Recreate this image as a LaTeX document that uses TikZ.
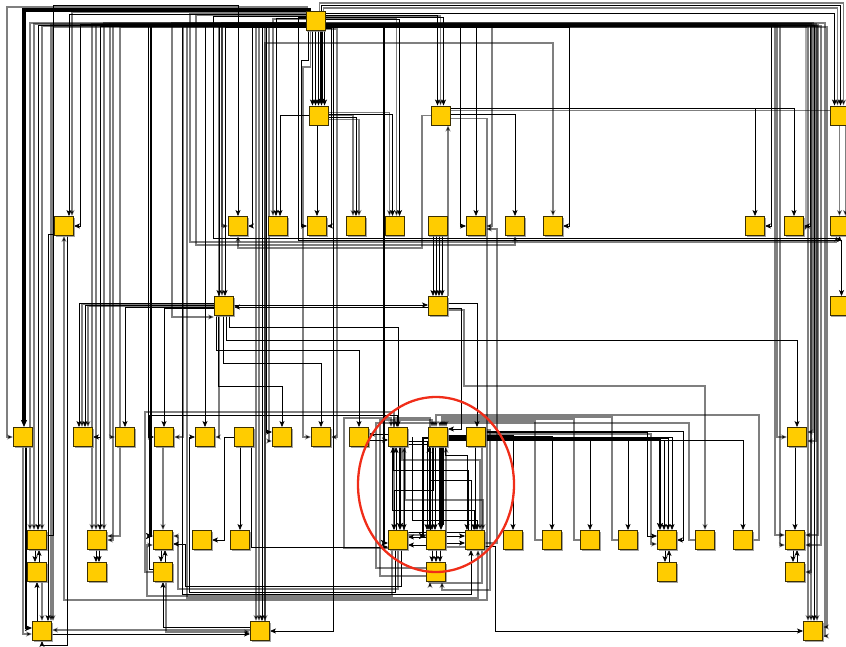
\documentclass[tikz,border=0pt]{standalone}
\usetikzlibrary{arrows.meta,shadows}
\definecolor{yel}{RGB}{255,204,0}
\definecolor{ndb}{RGB}{60,48,0}
\definecolor{ered}{RGB}{240,45,25}
\pgfdeclarelayer{bg}
\pgfsetlayers{bg,main}
\tikzset{
 nd/.style={draw=ndb, fill=yel, minimum size=19pt, inner sep=0pt, line width=0.9pt,
   drop shadow={shadow xshift=1.2pt, shadow yshift=-1.2pt, fill=black!45, opacity=0.8}},
 e/.style={draw=black, line width=0.7pt, -{Stealth[length=6pt,width=5pt,inset=1.5pt]}},
 g/.style={draw=black, draw opacity=0.5, fill opacity=0.9, line width=1.2pt, -{Stealth[length=6pt,width=5pt,inset=1.5pt]}},
 thk/.style={draw=black, line width=2.6pt, -{Stealth[length=7pt,width=6pt,inset=1.5pt]}},
}
\begin{document}
\begin{tikzpicture}[x=1pt,y=-1pt]
\useasboundingbox (0,0) rectangle (846,647);
% ---------------- nodes
\node[nd] (T) at (315.5,21) {};
\node[nd] (M1) at (318.5,115.5) {};
\node[nd] (M2) at (440.5,115.5) {};
\node[nd] (M3) at (839.5,115.5) {};
\foreach \n/\x in {A/64,B/238,C/278,D/317,E/356,F/394.5,G/437.5,H/476,I/515,J/553,K/755,L/794,N/839.5}
  \node[nd] (\n) at (\x,226) {};
\node[nd] (P) at (224,306) {};
\node[nd] (Q) at (438,306) {};
\node[nd] (S) at (839.5,306) {};
\foreach \n/\x in {a1/23,a2/83,a3/125,a4/164,a5/205,a6/244,a7/282,a8/321,a9/359,a10/398,a11/438,a12/476,a13/797}
  \node[nd] (\n) at (\x,437) {};
\foreach \n/\x in {b1/37,b2/97,b3/163,b4/202,b5/240,b6/398,b7/436,b8/475,b9/513,b10/552,b11/590,b12/628,b13/667,b14/705,b15/743,b16/795}
  \node[nd] (\n) at (\x,540) {};
\foreach \n/\x in {c1/37,c2/97,c3/163,c4/436,c5/667,c6/795}
  \node[nd] (\n) at (\x,572) {};
\foreach \n/\x in {d1/42,d2/260,d3/813}
  \node[nd] (\n) at (\x,631) {};
% ---------------- connectors
\begin{pgfonlayer}{bg}
% top lines from T
\draw[thk, line width=3.4pt] ([xshift=-6pt]T.north) -- (309.5,10) -| ([xshift=1pt]a1.north);
\draw[g] ([xshift=-8pt]T.north) -- (307.5,7) -| (7,437) -- (a1.west);
\draw[g] ([xshift=4pt]T.north) -- (319.5,3) -| ([xshift=4pt]M3.north);
\draw[e] ([xshift=6pt]T.north) -- (321.5,5) -| ([xshift=1pt]M3.north);
\draw[g] ([xshift=8pt]T.north) -- (323.5,8) -| ([xshift=-2pt]M3.north);
\draw[e] ([yshift=8pt]T.east) -| ([xshift=-5pt]M3.north);
\draw[e] ([yshift=6pt]T.east) -| ([xshift=-3pt]M2.north);
\draw[g] ([yshift=5pt]T.east) -| ([xshift=0pt]M2.north);
\draw[e] ([yshift=4pt]T.east) -| ([xshift=3pt]M2.north);
\draw[g] ([yshift=3pt]T.east) -| ([xshift=2pt]F.north);
\draw[e] ([yshift=2pt]T.east) -| ([xshift=5pt]F.north);
\draw[e] ([yshift=3pt]T.west) -| ([xshift=-2pt]C.north);
\draw[g] ([yshift=2pt]T.west) -| ([xshift=-5pt]C.north);
% B
\draw[e] ([yshift=5pt]b1.east) -| (53,5) -| (B.north);
\draw[g] ([yshift=-2pt]T.west) -| (222,226) -- (B.west);
\draw[e] ([yshift=-6pt]T.west) -| (252,226) -- (B.east);
\draw[g] (M2.west) -| (422,248) -| (B.south);
% A
\draw[e] ([yshift=7pt]T.west) -| ([xshift=5pt]A.north);
\draw[g] ([yshift=9pt]T.west) -| ([xshift=8pt]A.north);
\draw[e] ([yshift=-3pt]T.west) -| (80,226) -- (A.east);
\draw[e] ([yshift=-8pt]A.west) -| ([xshift=6pt]d1.north);
\draw[g] ([yshift=-3pt]M2.east) -| (487,600) -| (A.south);
\draw[e] ([xshift=3pt]A.south) -- (67,645) -| (d1.south);
% b1 / d1
\draw[g] ([yshift=-2pt]T.west) -| ([xshift=-7pt]b1.north);
\draw[g] ([yshift=-3pt]T.west) -| ([xshift=-3pt]b1.north);
\draw[e] ([yshift=-4pt]T.west) -| ([xshift=1pt]b1.north);
\draw[g] ([yshift=-5pt]T.west) -| ([xshift=5pt]b1.north);
\draw[g] ([yshift=-4pt]T.west) -| ([xshift=9pt]d1.north);
\draw[g] ([yshift=-6pt]T.west) -| ([xshift=11pt]d1.north);
% b2 / a2 / a3
\draw[g] ([yshift=-3pt]T.west) -| ([xshift=-5pt]b2.north);
\draw[g] ([yshift=-4pt]T.west) -| ([xshift=-1pt]b2.north);
\draw[e] ([yshift=-5pt]T.west) -| ([xshift=3pt]b2.north);
\draw[g] ([yshift=-2pt]T.west) -| ([xshift=7pt]b2.north);
\draw[g] ([yshift=-4pt]T.west) -| (113,540) -- (b2.east);
\draw[e] ([yshift=-5pt]T.west) -| (100,437) -- (a2.east);
\draw[g] ([yshift=-3pt]T.west) -| (110,437) -- (a3.west);
\draw[g] ([yshift=-6pt]T.west) -| (120,536) -- ([yshift=4pt]b2.east);
% b3 / a4 / a5
\draw[thk, line width=2.2pt] ([yshift=-4pt]T.west) -| (151,536) -- ([yshift=4pt]b3.west);
\draw[e] ([yshift=-5pt]T.west) -| (148,437) -- (a4.west);
\draw[g] ([yshift=-3pt]T.west) -| (183,437) -- (a4.east);
\draw[g] ([yshift=-2pt]T.west) -| (172,317) -- ([yshift=-11pt]P.west);
\draw[e] ([yshift=-4pt]T.west) -| (a5.north);
\draw[g] ([yshift=-5pt]T.west) -| (219,437) -- (a5.east);
% P top
\draw[e] ([yshift=-4pt]T.west) -| ([xshift=-5pt]P.north);
\draw[g] ([yshift=-5pt]T.west) -| ([xshift=-2pt]P.north);
\draw[e] ([yshift=-6pt]T.west) -| ([xshift=1pt]P.north);
% d2 top
\draw[g] ([yshift=-3pt]T.west) -| ([xshift=-4pt]d2.north);
\draw[g] ([yshift=-4pt]T.west) -| ([xshift=-1pt]d2.north);
\draw[e] ([yshift=-5pt]T.west) -| ([xshift=2pt]d2.north);
\draw[g] ([yshift=-6pt]T.west) -| ([xshift=5pt]d2.north);
% a7 / a8 / D
\draw[e] ([yshift=-5pt]T.west) -| (266,432) -- ([yshift=5pt]a7.west);
\draw[g] ([yshift=-6pt]T.west) -| (269,441) -- ([yshift=-4pt]a7.west);
\draw[g] ([xshift=-5pt]T.south) -- (310.5,67) -| (303,437) -- (a8.west);
\draw[e] ([xshift=-7pt]T.south) -- (308.5,60) -| (301,226) -- (D.west);
\draw[e] ([yshift=-7pt]T.east) -| (331,226) -- (D.east);
\draw[g] ([yshift=-8pt]T.east) -| (337,437) -- (a8.east);
\draw[e] ([yshift=-6pt]T.east) -| (333,631) -- (d2.east);
% M1
\foreach \s in {-6,-3,0,6} \draw[e] ([xshift=\s pt]M1.north |- T.south) -- ([xshift=\s pt]M1.north);
\draw[thk] ([xshift=3pt]M1.north |- T.south) -- ([xshift=3pt]M1.north);
\draw[e] (M1.west) -| ([xshift=2pt]C.north);
\draw[e] (D.north |- M1.south) -- (D.north);
\draw[e] ([yshift=-2pt]M1.east) -| (E.north);
\draw[g] ([yshift=-4pt]M1.east) -| ([xshift=3pt]E.north);
\draw[g] (M1.east) -| ([xshift=-3pt]E.north);
\draw[e] ([yshift=1pt]M1.east) -| ([xshift=-2pt]F.north);
\draw[g] ([yshift=3pt]M1.east) -| ([xshift=-5pt]F.north);
% M2
\draw[e] ([yshift=1pt]M2.east) -| (I.north);
\draw[e] ([yshift=7pt]M2.east) -| (K.north);
\draw[e] ([yshift=7pt]M2.east) -| (L.north);
\draw[g] ([yshift=5pt]M2.east) -| ([xshift=6pt]N.north);
\draw[g] ([xshift=10pt]Q.north) -- ([xshift=7.5pt]M2.south);
\foreach \s in {-5,-2,1,4} \draw[e] ([xshift=\s pt]Q.north |- G.south) -- ([xshift=\s pt]Q.north);
% H I J K L
\draw[e] ([yshift=-6pt]T.east) -| (H.north);
\draw[e] ([yshift=-5pt]T.east) -| (460,226) -- (H.west);
\draw[g] ([yshift=-4pt]T.east) -| (492,226) -- (H.east);
\draw[g] ([xshift=5pt]d2.north) -- (265,43) -| (J.north);
\draw[e] ([yshift=-6pt]T.east) -| (569,226) -- (J.east);
\draw[e] ([yshift=-5pt]T.east) -| (771,226) -- (K.east);
\draw[e] ([yshift=-4pt]T.east) -| (810,226) -- (L.east);
% right side
\draw[g] ([yshift=-3pt]T.east) -| (777,437) -- (a13.west);
\draw[g] ([yshift=-4pt]T.east) -| (775,535) -- ([yshift=5pt]b16.west);
\draw[g] ([yshift=-5pt]T.east) -| (780,545) -- ([yshift=-5pt]b16.west);
\draw[g] ([yshift=-2pt]T.east) -| (813,432) -- ([yshift=5pt]a13.east);
\draw[g] ([yshift=-3pt]T.east) -| (816,441) -- ([yshift=-4pt]a13.east);
\draw[g] ([yshift=-4pt]T.east) -| (818,535) -- ([yshift=5pt]b16.east);
\draw[g] ([yshift=-5pt]T.east) -| (821,545) -- ([yshift=-5pt]b16.east);
\draw[g] ([yshift=-3pt]T.east) -| (811,572) -- (c6.east);
\draw[g] ([yshift=-6pt]T.east) -| ([xshift=-5pt]d3.north);
\draw[g] ([yshift=-3pt]T.east) -| ([xshift=-2pt]d3.north);
\draw[e] ([yshift=-4pt]T.east) -| ([xshift=1pt]d3.north);
\draw[g] ([yshift=-5pt]T.east) -| ([xshift=4pt]d3.north);
\draw[g] ([yshift=-6pt]T.east) -| (827,627) -- ([yshift=4pt]d3.east);
\draw[g] ([yshift=-2pt]T.east) -| (825,636) -- ([yshift=-5pt]d3.east);
\draw[g] ([yshift=-4pt]T.east) -| (806,226) -- ([yshift=-5pt]L.east);
% M3 / N / S / bus under row 1
\draw[g] (M3.south) -- (N.north);
\draw[g] ([yshift=7pt]T.west) -| (190,242) -| ([xshift=-3pt]N.south);
\draw[e] ([yshift=5pt]T.west) -| (213,238) -| (N.south);
\draw[g] ([yshift=6pt]T.west) -| (196,245) -| (I.south);
\draw[e] ([yshift=4pt]T.west) -| (298,240) -| ([xshift=2pt]S.north);
% P
\draw[e] ([yshift=3pt]P.west) -| ([xshift=-4pt]a2.north);
\draw[g] ([yshift=2pt]P.west) -| ([xshift=-1pt]a2.north);
\draw[e] ([yshift=1pt]P.west) -| ([xshift=2pt]a2.north);
\draw[g] (P.west) -| ([xshift=5pt]a2.north);
\draw[e] ([yshift=-1pt]P.west) -| (a3.north);
\draw[e] ([yshift=-2pt]P.west) -| (a4.north);
\draw[e] ([xshift=-8pt]P.south) -- (216,350) -| (a9.north);
\draw[e] ([xshift=-6pt]P.south) -- (218,386) -| (a7.north);
\draw[e] ([xshift=-1pt]P.south) -- (223,363) -| (a8.north);
\draw[e] ([xshift=2pt]P.south) -- (226,340) -| (a13.north);
\draw[e] ([xshift=5pt]P.south) -- (229,327) -| (a10.north);
\draw[e] ([yshift=1pt]P.east) -- ([yshift=1pt]Q.west);
\draw[e] ([yshift=-1pt]Q.west) -- ([yshift=-1pt]P.east);
% Q
\draw[e] ([yshift=3pt]Q.east) -| ([xshift=1pt]a12.north);
\draw[e] ([yshift=-2pt]Q.east) -| (461,429) -- ([yshift=8pt]a11.east);
\draw[g] ([yshift=-4pt]Q.east) -| (464,386) -| (b14.north);
% a row
\draw[thk, line width=1.8pt] ([xshift=3pt]a1.south) |- ([yshift=3pt]d1.west);
\draw[g] (a1.south) |- ([yshift=-3pt]d1.west);
\draw[e] (a6.west) -| (224,540) -- (b4.east);
\draw[e] (b5.north |- a6.south) -- (b5.north);
\draw[e] ([xshift=7pt]a6.south) |- ([yshift=-7pt]b6.west);
\draw[g] (b3.north |- a4.south) -- (b3.north);
\draw[e] ([yshift=3pt]a10.west) -- ([yshift=3pt]a9.east);
\draw[e] ([yshift=-3pt]a9.east) -- ([yshift=-3pt]a10.west);
\draw[e] (b16.north |- a13.south) -- (b16.north);
\draw[e] (b8.north |- a12.south) -- (b8.north);
% b-c-d
\draw[e] ([xshift=-2pt]b1.south) -- ([xshift=-2pt]c1.north);
\draw[e] ([xshift=2pt]c1.north) -- ([xshift=2pt]b1.south);
\draw[e] ([xshift=-1pt]b2.south) -- ([xshift=-1pt]c2.north);
\draw[e] ([xshift=2pt]b2.south) -- ([xshift=2pt]c2.north);
\draw[e] ([xshift=-2pt]b3.south) -- ([xshift=-2pt]c3.north);
\draw[e] ([xshift=2pt]c3.north) -- ([xshift=2pt]b3.south);
\draw[e] ([xshift=-2pt]b13.south) -- ([xshift=-2pt]c5.north);
\draw[e] ([xshift=2pt]c5.north) -- ([xshift=2pt]b13.south);
\draw[e] ([xshift=-2pt]b16.south) -- ([xshift=-2pt]c6.north);
\draw[e] ([xshift=2pt]c6.north) -- ([xshift=2pt]b16.south);
\draw[e] ([xshift=-5pt]d1.north) -- (c1.south);
\draw[g] ([xshift=5pt]c1.south) -- (d1.north);
\draw[g] ([yshift=1pt]d2.west) -- ([yshift=1pt]d1.east);
\draw[e] ([yshift=-3pt]d1.east) -- ([yshift=-3pt]d2.west);
\draw[e] ([yshift=4pt]d2.west) -| (c3.south);
\draw[g] ([xshift=3pt]c3.south) |- ([yshift=-1pt]d2.west);
% ellipse region
\draw[thk, line width=5pt] ([xshift=5pt]b7.north |- a11.south) -- ([xshift=5pt]b7.north);
\draw[thk] ([xshift=2pt]a10.south) -- ([xshift=2pt]b6.north);
\draw[thk] ([yshift=-4pt]T.east) -| (384,543) -- ([yshift=-3pt]b6.west);
\draw[thk, line width=2pt] ([yshift=-1pt]a11.west) -| (423,536) -- ([yshift=4pt]b7.west);
\foreach \s in {-7,-4,-1} \draw[e] ([xshift=\s pt]b7.north |- a11.south) -- ([xshift=\s pt]b7.north);
\foreach \s in {-4,0,4} \draw[e] ([xshift=\s pt]c4.north |- b7.south) -- ([xshift=\s pt]c4.north);
\draw[e] ([yshift=-4pt]a10.east) -| ([xshift=-9pt]b7.north);
\draw[e] ([yshift=-7pt]a11.west) -| ([xshift=6pt]b6.north);
\draw[e] ([xshift=-8pt]a11.south) |- ([yshift=3pt]b6.east);
\draw[g] ([yshift=5pt]b7.west) -| ([xshift=6pt]a10.south);
\draw[e] ([yshift=-5pt]b7.west) -- ([yshift=-5pt]b6.east);
\draw[e] ([yshift=-3pt]b7.east) -- ([yshift=-3pt]b8.west);
\draw[e] ([yshift=4pt]b7.east) -- ([yshift=4pt]b8.west);
\draw[e] ([xshift=-7pt]b8.north) -- (468,470) -| ([xshift=-5pt]a10.south);
\draw[e] ([xshift=-4pt]b8.north) -- (471,480) -| ([xshift=-9pt]a11.south);
\draw[g] ([xshift=7pt]a10.south) -- (405,500) -| ([xshift=8pt]b8.north);
\draw[e] ([xshift=-6pt]a10.south) -- (392,510) -| ([xshift=-1pt]b8.north);
\draw[g] ([xshift=4pt]a10.south) -- (402,460) -| ([xshift=5pt]b8.north);
\draw[e] ([yshift=8pt]b8.west) -| ([xshift=-2pt]a10.south);
\draw[g] ([yshift=-7pt]b8.west) -| ([xshift=8pt]a11.south);
\draw[e] ([xshift=7pt]a11.south) -- (445,455) -| ([xshift=-8pt]b8.north);
\draw[e] ([xshift=-5pt]a11.south) -- (433,490) -| ([xshift=-4pt]b6.north);
\draw[e] ([xshift=4pt]a10.east) -- ([xshift=4pt]a10.east |- 0,520) -| ([xshift=2pt]b8.north);
\draw[g] ([xshift=-8pt]a11.north) -- (430,418) -| ([xshift=-4pt]b6.north);
\draw[g] ([yshift=-8pt]b6.west) -| (344,418) -| ([xshift=-7pt]a10.north);
\draw[g] ([yshift=7pt]a12.east) -| (490,590) -| ([xshift=6pt]c4.south);
\draw[g] ([yshift=-2pt]a12.east) -| (482,583) -| ([xshift=-6pt]c4.south);
\draw[e] ([yshift=-3pt]T.west) -| (182,594) -| ([xshift=-4pt]b8.south);
\draw[g] ([yshift=-4pt]T.west) -| (187,598) -| ([xshift=3pt]b8.south);
\draw[g] ([xshift=-6pt]b6.south) -- (392,596) -| (147,545) -- ([yshift=-5pt]b3.west);
\draw[e] ([xshift=-3pt]b6.south) -- (395,592) -| (189,437) -- (a5.west);
\draw[g] (b6.south) -- (398,589) -| (178,536) -- ([yshift=4pt]b3.east);
\draw[e] ([xshift=3pt]b6.south) -- (401,586) -| (185,544) -- ([yshift=-4pt]b3.east);
\draw[g] (c3.west) -| (145,412) -| ([xshift=-4pt]a10.north);
\draw[e] ([yshift=3pt]c3.west) -| (149,415) -| ([xshift=-1pt]a10.north);
\draw[g] ([yshift=-4pt]c4.west) -| (380,420) -| ([xshift=-6pt]a11.north);
\draw[g] ([yshift=4pt]c4.west) -| (376,423) -| ([xshift=-4pt]a11.north);
% a11 to b row
\draw[e] ([yshift=2pt]a11.east) -| (b9.north);
\draw[e] ([yshift=1pt]a11.east) -| (b10.north);
\draw[e] (a11.east) -| (b11.north);
\draw[e] ([yshift=-1pt]a11.east) -| (b12.north);
\draw[thk] ([yshift=-2pt]a11.east) -| ([xshift=-7pt]b13.north);
\draw[e] ([yshift=-3pt]a11.east) -| ([xshift=-3pt]b13.north);
\draw[e] ([yshift=-1pt]a11.east) -| ([xshift=1pt]b13.north);
\draw[e] (a11.east) -| ([xshift=5pt]b13.north);
\draw[e] ([yshift=-3pt]a11.east) -| (b15.north);
\draw[g] (b10.west) -| (535,421) -| ([xshift=8pt]a11.north);
\draw[g] (b11.west) -| (574,419) -| ([xshift=6pt]a11.north);
\draw[g] (b12.west) -| (612,417) -| ([xshift=4pt]a11.north);
\draw[g] (b14.west) -| (689,423) -| ([xshift=2pt]a11.north);
\draw[g] (b15.east) -| (759,415) -| ([xshift=-2pt]a11.north);
\draw[e] ([yshift=5pt]a12.east) -| (647,536) -- ([yshift=4pt]b13.west);
\draw[g] ([yshift=3pt]a12.east) -| (651,544) -- ([yshift=-4pt]b13.west);
\draw[e] ([yshift=6pt]a12.east) -| (683,540) -- (b13.east);
\draw[e] ([yshift=-6pt]b8.east) -| (495,631) -- (d3.west);
\draw[g] ([yshift=-3pt]b8.east) -| (497,229) -- ([yshift=-3pt]H.east);
\end{pgfonlayer}
\draw[ered, line width=2.3pt] (436,484.5) ellipse [x radius=78pt, y radius=87.5pt];
\end{tikzpicture}
\end{document}
